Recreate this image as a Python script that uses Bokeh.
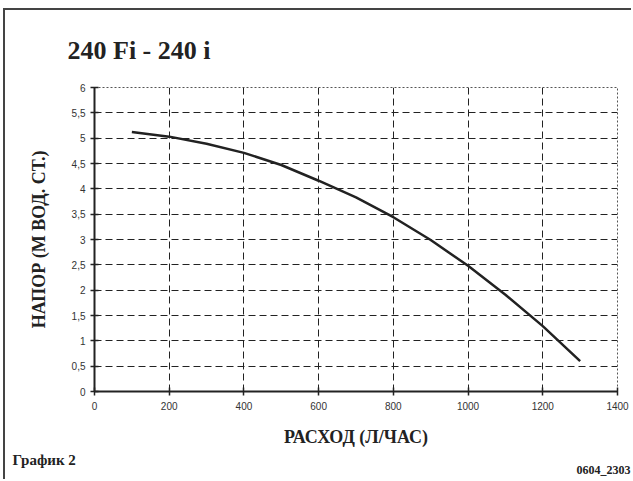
from bokeh.plotting import figure
from bokeh.models import Range1d, FixedTicker, Title
from bokeh.embed import file_html
from bokeh.resources import INLINE

# ---- data ----
flow = [100, 200, 300, 400, 500, 600, 700, 800, 900, 1000, 1100, 1200, 1300]
head = [5.12, 5.03, 4.89, 4.71, 4.47, 4.16, 3.83, 3.44, 2.99, 2.48, 1.91, 1.29, 0.60]

x_ticks = [0, 200, 400, 600, 800, 1000, 1200, 1400]
y_ticks = [0, 0.5, 1, 1.5, 2, 2.5, 3, 3.5, 4, 4.5, 5, 5.5, 6]
y_tick_labels = ["0", "0,5", "1", "1,5", "2", "2,5", "3", "3,5", "4", "4,5", "5", "5,5", "6"]
x_grid = [200, 400, 600, 800, 1000, 1200]
y_grid = [0.5, 1, 1.5, 2, 2.5, 3, 3.5, 4, 4.5, 5, 5.5]

title_text = "240 Fi - 240 i"
x_label = "РАСХОД (Л/ЧАС)"
y_label = "НАПОР (М ВОД. СТ.)"
footer_left = "График 2"
footer_right = "0604_2303"

SERIF = "Liberation Serif"
SANS = "Liberation Sans"
INK = "#222222"

W, H = 628, 471
p = figure(width=W, height=H, output_backend="svg", toolbar_location=None,
           x_range=Range1d(0, 1400), y_range=Range1d(0, 6),
           min_border_left=89, min_border_right=16, min_border_top=77, min_border_bottom=90)
p.styles = {"border-left": "2px solid #444", "border-top": "2px solid #444",
            "margin-left": "3px", "margin-top": "8px"}

p.background_fill_color = "white"
p.border_fill_color = "white"
p.outline_line_color = "#555555"
p.outline_line_width = 1
p.outline_line_dash = "2 2"

# axes
for ax in (p.xaxis[0], p.yaxis[0]):
    ax.axis_line_color = INK
    ax.axis_line_width = 2
    ax.major_tick_line_color = INK
    ax.major_tick_line_width = 1.5
    ax.major_tick_in = 4
    ax.major_tick_out = 4
    ax.minor_tick_line_color = None
    ax.major_label_text_font = SANS
    ax.major_label_text_font_size = "10px"
    ax.major_label_text_color = "#333333"
    ax.axis_label_text_font = SERIF
    ax.axis_label_text_font_style = "bold"
    ax.axis_label_text_font_size = "18px"
    ax.axis_label_text_color = INK

p.xaxis.ticker = FixedTicker(ticks=x_ticks)
p.yaxis.ticker = FixedTicker(ticks=y_ticks)
p.yaxis.major_label_overrides = {t: l for t, l in zip(y_ticks, y_tick_labels)}
p.xaxis.major_label_standoff = 6
p.yaxis.major_label_standoff = 5
p.xaxis.axis_label = x_label
p.yaxis.axis_label = y_label
p.xaxis.axis_label_standoff = 14
p.yaxis.axis_label_standoff = 20

# grid
p.xgrid.ticker = FixedTicker(ticks=x_grid)
p.ygrid.ticker = FixedTicker(ticks=y_grid)
for g in (p.xgrid[0], p.ygrid[0]):
    g.grid_line_color = INK
    g.grid_line_width = 1
    g.grid_line_dash = "7 4"

# curve
p.line(flow, head, line_color=INK, line_width=2.5)

# title above the frame
p.add_layout(Title(text=title_text, align="left", offset=-27, standoff=46,
                   text_font=SERIF, text_font_style="bold", text_font_size="26px",
                   text_color=INK), "above")
# footers
p.add_layout(Title(text=footer_left, align="left", offset=-82, standoff=0,
                   text_font=SERIF, text_font_style="bold", text_font_size="15px",
                   text_color=INK), "below")
p.add_layout(Title(text=footer_right, align="right", offset=-13, standoff=-13,
                   text_font=SERIF, text_font_style="bold", text_font_size="12px",
                   text_color=INK), "below")

open("out.html", "w").write(file_html(p, INLINE))
